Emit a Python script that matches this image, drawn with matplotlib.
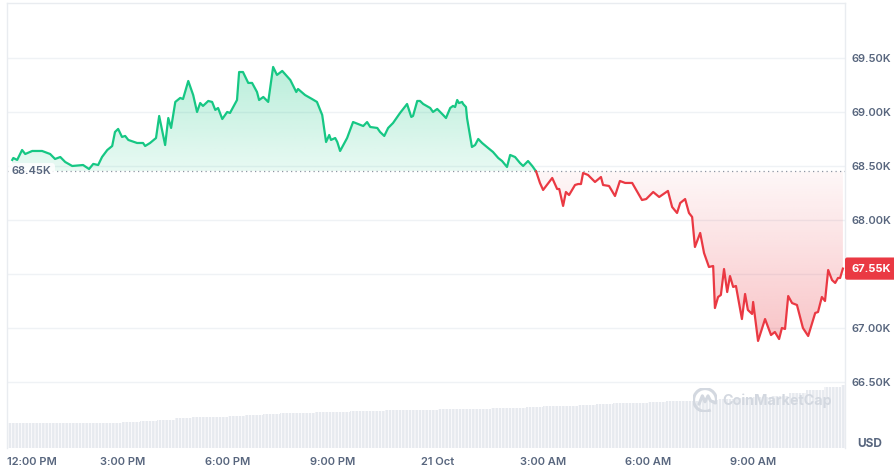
import numpy as np
import matplotlib
matplotlib.use("Agg")
import matplotlib.pyplot as plt
import matplotlib.colors as mcolors
from matplotlib import transforms as mtransforms
from matplotlib.patches import PathPatch, Arc
from matplotlib.path import Path
from matplotlib.ticker import FuncFormatter

# hours after 12:00 PM (20 Oct) and BTC price in USD
hours = [-0.14, -0.11, 0.00, 0.14, 0.23, 0.43, 0.71, 0.94, 1.08, 1.23,
         1.37, 1.57, 1.88, 2.05, 2.17, 2.31, 2.42, 2.57, 2.71, 2.79,
         2.88, 2.99, 3.08, 3.17, 3.42, 3.59, 3.65, 3.79, 3.96, 4.05,
         4.22, 4.31, 4.39, 4.51, 4.65, 4.73, 4.88, 5.02, 5.13, 5.22,
         5.30, 5.45, 5.56, 5.65, 5.73, 5.85, 5.99, 6.07, 6.27, 6.33,
         6.44, 6.59, 6.70, 6.84, 6.90, 7.02, 7.16, 7.30, 7.41, 7.56,
         7.79, 7.96, 8.01, 8.21, 8.41, 8.55, 8.70, 8.81, 8.90, 8.95,
         9.07, 9.13, 9.21, 9.41, 9.58, 9.87, 9.98, 10.07, 10.27, 10.35,
         10.47, 10.58, 10.72, 10.92, 11.12, 11.24, 11.29, 11.41, 11.49, 11.58,
         11.78, 11.86, 11.98, 12.15, 12.23, 12.35, 12.43, 12.49, 12.55, 12.60,
         12.69, 12.72, 12.80, 12.83, 12.97, 13.06, 13.15, 13.26, 13.43, 13.57,
         13.72, 13.83, 13.97, 14.06, 14.20, 14.34, 14.43, 14.57, 14.69, 14.80,
         14.91, 15.00, 15.26, 15.40, 15.46, 15.57, 15.65, 15.74, 15.91, 16.00,
         16.08, 16.14, 16.28, 16.48, 16.65, 16.71, 16.88, 17.05, 17.19, 17.34,
         17.54, 17.82, 17.94, 18.14, 18.31, 18.56, 18.68, 18.82, 18.91, 19.05,
         19.16, 19.25, 19.33, 19.48, 19.59, 19.73, 19.85, 19.90, 19.99, 20.07,
         20.16, 20.25, 20.33, 20.42, 20.50, 20.67, 20.76, 20.84, 20.96, 20.99,
         21.13, 21.33, 21.50, 21.61, 21.73, 21.81, 21.90, 21.99, 22.10, 22.24,
         22.41, 22.56, 22.76, 22.84, 22.95, 23.04, 23.13, 23.24, 23.33, 23.41,
         23.47, 23.55]
prices = [68556, 68574, 68556, 68648, 68611, 68639, 68639, 68611, 68565, 68583,
          68537, 68500, 68509, 68472, 68519, 68509, 68583, 68648, 68685, 68815,
          68843, 68769, 68778, 68741, 68713, 68713, 68685, 68713, 68759, 68963,
          68694, 68944, 68852, 69093, 69130, 69120, 69287, 69157, 69000, 69083,
          69056, 69102, 69093, 69019, 69037, 68935, 69000, 68991, 69111, 69370,
          69370, 69269, 69269, 69185, 69111, 69139, 69093, 69417, 69343, 69380,
          69296, 69185, 69213, 69157, 69120, 69093, 68972, 68722, 68787, 68741,
          68759, 68722, 68639, 68759, 68907, 68870, 68907, 68861, 68852, 68815,
          68778, 68852, 68898, 68991, 69074, 68954, 68963, 69102, 69102, 69074,
          69037, 69000, 69028, 68972, 68944, 69037, 69056, 69046, 69111, 69083,
          69093, 69074, 69046, 68944, 68676, 68694, 68750, 68713, 68667, 68630,
          68574, 68546, 68491, 68602, 68583, 68528, 68500, 68546, 68500, 68450,
          68343, 68278, 68389, 68287, 68287, 68130, 68259, 68231, 68324, 68333,
          68333, 68435, 68417, 68352, 68398, 68324, 68315, 68222, 68361, 68343,
          68343, 68185, 68194, 68259, 68213, 68269, 68120, 68065, 68157, 68194,
          68065, 68028, 67750, 67880, 67694, 67565, 67574, 67185, 67287, 67306,
          67546, 67333, 67481, 67380, 67389, 67083, 67315, 67167, 67130, 67241,
          66880, 67083, 66935, 66963, 66898, 67000, 66991, 67296, 67231, 67213,
          67000, 66926, 67139, 67148, 67287, 67250, 67537, 67444, 67417, 67463,
          67463, 67550]
open_price = 68450

# 24h volume (billion USD), one bar per half hour starting at -0.25 h
vol_start = -0.25
vol_step = 0.5
volume = [10.0, 10.0, 10.0, 10.0, 10.0, 10.0, 10.2, 10.4, 10.8, 11.4,
          12.0, 12.4, 12.6, 12.8, 13.2, 13.8, 14.0, 14.2, 14.4, 14.6,
          14.8, 15.0, 15.2, 15.4, 15.4, 15.6, 15.8, 15.8, 16.0, 16.2,
          16.6, 16.8, 17.0, 17.4, 17.6, 18.0, 18.2, 18.4, 18.8, 19.0,
          19.4, 19.6, 20.0, 20.4, 20.8, 22.0, 23.2, 24.4, 25.2]

xtick_hours = [0, 3, 6, 9, 12, 15, 18, 21]
xtick_labels = ["12:00 PM", "3:00 PM", "6:00 PM", "9:00 PM", "21 Oct",
                "3:00 AM", "6:00 AM", "9:00 AM"]
ytick_values = [66500, 67000, 67500, 68000, 68500, 69000, 69500]

GREEN = "#16c784"
RED = "#ea3943"
GREY = "#58667e"

plt.rcParams["font.family"] = ["Inter", "DejaVu Sans"]
plt.rcParams["hatch.linewidth"] = 0.6


def gradient_fill(ax, x, y, base, color, a_near, a_far, far):
    """fill between a line and the base level with a vertical alpha gradient"""
    grad = np.zeros((256, 1, 4))
    grad[:, 0, :3] = mcolors.to_rgb(color)
    grad[:, 0, 3] = np.linspace(a_near, a_far, 256)
    lo, hi = min(base, far), max(base, far)
    if far < base:
        grad = grad[::-1]
    im = ax.imshow(grad, extent=[x[0], x[-1], lo, hi], origin="lower",
                   aspect="auto", interpolation="bilinear", zorder=1)
    verts = np.column_stack([np.r_[x, x[::-1]], np.r_[y, np.full(len(x), base)]])
    patch = PathPatch(Path(verts), transform=ax.transData, fc="none", ec="none")
    ax.add_patch(patch)
    im.set_clip_path(patch)


hours = np.array(hours)
prices = np.array(prices)
cross = np.where(prices >= open_price)[0][-1]

fig = plt.figure(figsize=(8.95, 4.7), dpi=100)
pos = [7 / 895, 1 - 448 / 470, 838 / 895, 445 / 470]
xlim = (-0.29, 23.61)
ylim = (65889, 70009)

# volume bars underneath
ax_vol = fig.add_axes(pos)
vol_x = vol_start + vol_step * np.arange(len(volume))
ax_vol.bar(vol_x, volume, width=vol_step, color="#e7eaef", edgecolor="white",
           linewidth=0, hatch="|||||")
ax_vol.set_xlim(xlim)
ax_vol.set_ylim(0, 178)
ax_vol.axis("off")

ax = fig.add_axes(pos)
ax.patch.set_alpha(0)

gx, gy = hours[:cross + 1], prices[:cross + 1]
rx, ry = hours[cross:], prices[cross:]
gradient_fill(ax, gx, gy, open_price, GREEN, 0.10, 0.30, gy.max())
gradient_fill(ax, rx, ry, open_price, RED, 0.04, 0.30, ry.min())
ax.plot(gx, gy, color=GREEN, lw=1.6, zorder=3, solid_joinstyle="round")
ax.plot(rx, ry, color=RED, lw=1.6, zorder=3, solid_joinstyle="round")

ax.axhline(open_price, color="#8e96a3", lw=0.9, ls=(0, (1, 2.6)), zorder=2)

ax.set_xlim(xlim)
ax.set_ylim(ylim)

last = prices[-1]


def price_fmt(v, _):
    # the tick hidden behind the current-price tag is left blank
    if abs(v - last) < 100:
        return ""
    return f"{v / 1000:.2f}K"


ax.yaxis.tick_right()
ax.set_yticks(ytick_values)
ax.yaxis.set_major_formatter(FuncFormatter(price_fmt))
ax.set_xticks(xtick_hours)
ax.set_xticklabels([""] + xtick_labels[1:])
ax.tick_params(axis="y", length=0, pad=4.5, labelsize=8, labelcolor=GREY)
ax.tick_params(axis="x", length=0, pad=6.5, labelsize=8, labelcolor=GREY)
for lab in ax.get_xticklabels() + ax.get_yticklabels():
    lab.set_fontweight("semibold")

ax.grid(axis="y", color="#eff2f5", lw=1)
ax.set_axisbelow(True)
for side in ["top", "left", "right"]:
    ax.spines[side].set_color("#e9ecf0")
    ax.spines[side].set_linewidth(1)
ax.spines["bottom"].set_visible(False)

# first time label sits flush with the left edge
ax.text(0, 0, xtick_labels[0], ha="left", va="top", fontsize=8, color=GREY,
        fontweight="semibold",
        transform=mtransforms.offset_copy(ax.transAxes, fig, x=0, y=-6.5, units="points"))

blend = mtransforms.blended_transform_factory(ax.transAxes, ax.transData)
ax.text(0, open_price, f"{open_price / 1000:.2f}K", ha="left", va="center",
        fontsize=8, color=GREY, fontweight="semibold", zorder=4,
        transform=mtransforms.offset_copy(blend, fig, x=3.5, y=0, units="points"),
        bbox=dict(boxstyle="round,pad=0.3", fc="white", ec="none", alpha=0.85))
ax.text(1, last, f"{last / 1000:.2f}K", ha="left", va="center",
        fontsize=8, color="white", fontweight="bold", clip_on=False, zorder=5,
        transform=mtransforms.offset_copy(blend, fig, x=4.4, y=0, units="points"),
        bbox=dict(boxstyle="round,pad=0.55,rounding_size=0.2", fc=RED, ec="none"))

fig.text(870 / 895, 1 - 444 / 470, "USD", ha="center", va="center",
         fontsize=8.5, color=GREY, fontweight="bold")

# watermark
wm = "#d3d8e0"
logo = fig.add_axes([693 / 895, 1 - 412 / 470, 24 / 895, 24 / 470])
logo.set_xlim(-1, 1)
logo.set_ylim(-1, 1)
logo.set_aspect("equal")
logo.axis("off")
logo.add_patch(Arc((0, 0), 1.9, 1.9, theta1=-20, theta2=300, color=wm, lw=2.2))
logo.plot([-0.5, -0.22, 0.0, 0.25, 0.45, 0.85], [-0.35, 0.35, -0.15, 0.35, -0.05, -0.25],
          color=wm, lw=2.2, solid_joinstyle="round", solid_capstyle="round")
fig.text(722 / 895, 1 - 401 / 470, "CoinMarketCap", ha="left", va="center",
         fontsize=10.3, color=wm, fontweight="bold")

fig.savefig("out.png", dpi=100)
